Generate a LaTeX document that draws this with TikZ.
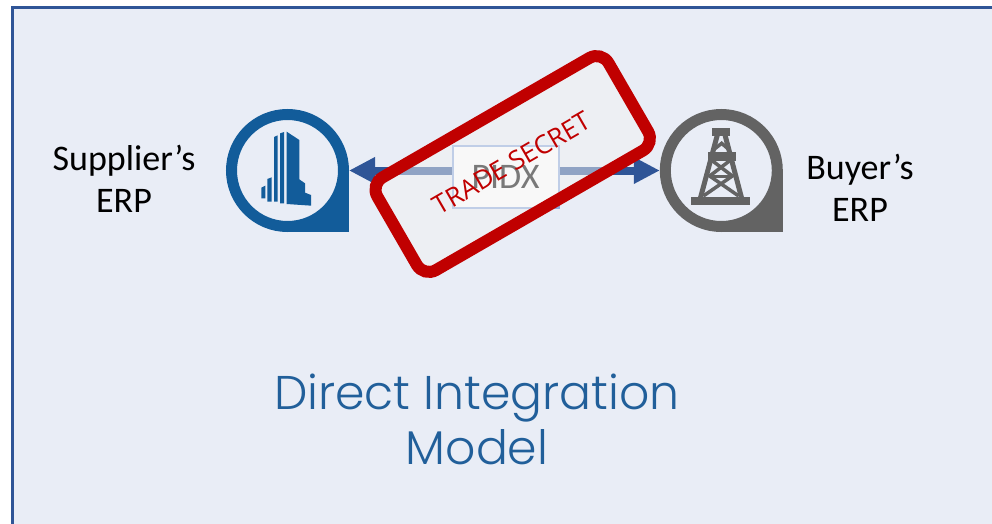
\documentclass[tikz,border=0pt]{standalone}
\usepackage{fontspec}
\setmainfont{Carlito}
\newfontfamily\stampfont{Open Sans}
\newfontfamily\titlefont[UprightFont=* Light]{Poppins}
\usetikzlibrary{arrows.meta}
\definecolor{panelbg}{HTML}{E9EDF6}
\definecolor{navy}{HTML}{2F5597}
\definecolor{suppblue}{HTML}{125C9A}
\definecolor{buygray}{HTML}{636363}
\definecolor{stampred}{HTML}{C00000}
\definecolor{boxedge}{HTML}{8FAADC}
\definecolor{titleblue}{HTML}{215F9A}
\tikzset{
  erpicon/.style={circle,minimum size=112pt,inner sep=0pt,line width=11pt,fill=panelbg},
  label/.style={align=center,font=\fontsize{36}{42}\selectfont},
  flow/.style={navy,line width=8pt,-{Triangle[length=26pt,width=25pt]}},
  rig/.style={buygray,line width=5pt},
}
\begin{document}
\begin{tikzpicture}[x=1pt,y=-1pt]
\useasboundingbox (0,0) rectangle (992,524);
\clip (0,0) rectangle (992,524);
\draw[navy,line width=3pt,fill=panelbg] (12.5,7.5) rectangle (1100,600);
% icons
\coordinate (supc) at (287.5,170.5);
\coordinate (buyc) at (721.3,170.5);
\fill[suppblue] (supc) rectangle ++(61.5,61.5);
\fill[buygray] (buyc) rectangle ++(61.5,61.5);
\node[erpicon,draw=suppblue] (sup) at (supc) {};
\node[erpicon,draw=buygray] (buy) at (buyc) {};
% building
\begin{scope}[shift={(210,90)},x=0.333333pt,y=-0.333333pt]
\fill[suppblue] (154,293)--(166,287)--(166,325)--(154,325)--cycle;
\fill[suppblue] (172,267)--(185,262)--(185,335)--(172,335)--cycle;
\fill[suppblue] (192,141)--(203,136)--(203,335)--(192,335)--cycle;
\fill[suppblue] (210,130)--(222,126)--(222,340)--(210,340)--cycle;
\fill[suppblue] (230,125)--(268,150)--(268,268)--(285,280)--(285,308)--(303,315)--(303,347)--(230,342)--cycle;
\end{scope}
% derrick
\begin{scope}[shift={(640,90)},x=0.333333pt,y=-0.333333pt]
\fill[buygray] (216,115) rectangle (270,137);
\fill[buygray] (153,322) rectangle (331,345);
\fill[buygray] (205,187) rectangle (287,212);
\draw[rig] (232,135)--(181,325);
\draw[rig] (255,135)--(305,325);
\draw[rig,line width=3.5pt] (222,178)--(245,160)--(266,178);
\draw[rig,line width=3.5pt] (214,210)--(277,258)--(190,318);
\draw[rig,line width=3.5pt] (272,210)--(209,258)--(296,318);
\draw[rig,line width=3pt] (212,260)--(275,260);
\end{scope}
% PIDX box and arrows
\node[draw=boxedge,line width=2pt,fill=white,minimum width=106pt,minimum height=62pt,inner sep=0pt,
      font=\fontsize{36}{36}\selectfont,text=black] (pidx) at (505.5,176.5) {PIDX};
\draw[flow] (pidx.west |- sup.east) -- (sup.east);
\draw[flow] (pidx.east |- buy.west) -- (buy.west);
% stamp
\node[draw=stampred,line width=12pt,fill={rgb,255:red,242;green,242;blue,242},fill opacity=0.5,draw opacity=1,
      rounded corners=14pt,rotate=30,minimum width=267pt,minimum height=107pt,inner sep=0pt,
      text opacity=1] (stamp) at (512.7,164) {};
\node[text=stampred,rotate=30,font=\stampfont\fontsize{26}{26}\selectfont,inner sep=0pt] (secret) at (512,163) {TRADE SECRET};
% labels
\node[label] (suplabel) at (124,179) {Supplier’s\\ERP};
\node[label] (buylabel) at (860,188) {Buyer’s\\ERP};
\node[align=center,text=titleblue,font=\titlefont\fontsize{47.3}{55}\selectfont] (title) at (477,419) {Direct Integration\\Model};
\end{tikzpicture}
\end{document}
